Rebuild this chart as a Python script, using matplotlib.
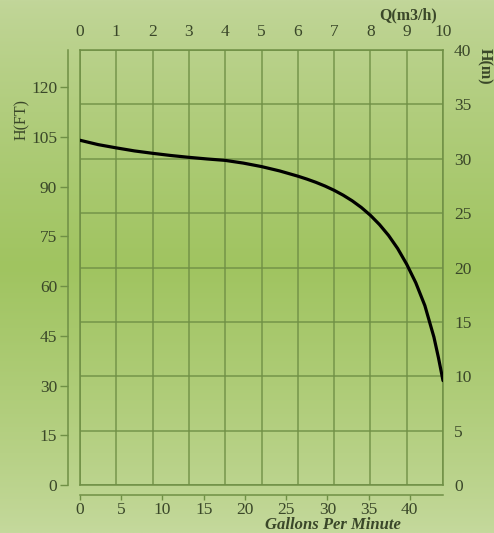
import numpy as np
import matplotlib
matplotlib.use("Agg")
import matplotlib.pyplot as plt

# pump curve: flow in m3/h, head in m
q_m3h = [0, 0.5, 1, 1.5, 2, 2.5, 3, 3.5, 4, 4.5, 5, 5.5, 6, 6.25, 6.5, 6.75,
         7, 7.25, 7.5, 7.75, 8, 8.25, 8.5, 8.75, 9, 9.25, 9.5, 9.75, 9.875, 10]
head_m = [31.7, 31.3, 31.0, 30.72, 30.5, 30.3, 30.13, 29.98, 29.85, 29.6, 29.28,
          28.88, 28.4, 28.13, 27.83, 27.49, 27.1, 26.65, 26.13, 25.52, 24.8,
          23.95, 22.95, 21.75, 20.3, 18.6, 16.5, 13.6, 11.7, 9.6]

q_ticks = list(range(0, 11))
hm_ticks = list(range(0, 41, 5))
ft_ticks = list(range(0, 121, 15))
gpm_ticks = list(range(0, 41, 5))

M_TO_FT = 3.28084
M3H_TO_GPM = 4.40287
PX = 72 / 100  # points per pixel at 100 dpi

grid_c = "#6f8f45"
text_c = "#3a4729"
font = "Liberation Serif"
fs = 12.5

fig = plt.figure(figsize=(4.94, 5.33), dpi=100)

# green background, light at top and bottom, deeper in the middle
bg = fig.add_axes([0, 0, 1, 1], zorder=-10)
t = np.linspace(0, 1, 300)
top = np.array([194, 214, 154]) / 255
mid = np.array([160, 196, 96]) / 255
bot = np.array([197, 217, 157]) / 255
w = np.clip(1 - np.abs(t - 0.5) / 0.5, 0, 1) ** 0.8
upper = t < 0.5
cols = np.where(upper[:, None], top + (mid - top) * w[:, None], bot + (mid - bot) * w[:, None])
bg.imshow(np.repeat(cols[:, None, :], 2, axis=1), aspect="auto", extent=[0, 1, 0, 1])
bg.axis("off")

ax = fig.add_axes([80 / 494, 48 / 533, 363 / 494, 435 / 533])
ax.patch.set_alpha(0)
ax.set_xlim(0, 10)
ax.set_ylim(0, 40)
ax.set_xticks(q_ticks)
ax.set_yticks(hm_ticks)
ax.grid(True, color=grid_c, lw=1.1, alpha=0.9)
for s in ax.spines.values():
    s.set_color(grid_c)
    s.set_linewidth(1.1)
ax.tick_params(axis="x", bottom=False, labelbottom=False, top=False, labeltop=True,
               length=0, pad=7, labelsize=fs, labelcolor=text_c)
ax.tick_params(axis="y", left=False, labelleft=False, right=False, labelright=True,
               length=0, pad=8, labelsize=fs, labelcolor=text_c)
for lab in ax.get_xticklabels() + ax.get_yticklabels():
    lab.set_fontfamily(font)

ax.plot(q_m3h, head_m, color="black", lw=2.3, solid_capstyle="round",
        solid_joinstyle="round", zorder=5)

# head in feet on an offset left axis
ax_ft = ax.secondary_yaxis("left", functions=(lambda h: h * M_TO_FT, lambda f: f / M_TO_FT))
ax_ft.spines["left"].set_position(("outward", 12 * PX))
ax_ft.spines["left"].set_color(grid_c)
ax_ft.spines["left"].set_linewidth(1.1)
ax_ft.set_yticks(ft_ticks)
ax_ft.tick_params(length=8 * PX, width=1, color=grid_c, labelsize=fs, labelcolor=text_c, pad=2)
for lab in ax_ft.get_yticklabels():
    lab.set_fontfamily(font)

# flow in US gallons per minute on an offset bottom axis
ax_gpm = ax.secondary_xaxis("bottom", functions=(lambda q: q * M3H_TO_GPM, lambda g: g / M3H_TO_GPM))
ax_gpm.spines["bottom"].set_position(("outward", 10 * PX))
ax_gpm.spines["bottom"].set_color(grid_c)
ax_gpm.spines["bottom"].set_linewidth(1.1)
ax_gpm.set_xticks(gpm_ticks)
ax_gpm.tick_params(length=5 * PX, width=1, color=grid_c, labelsize=fs, labelcolor=text_c, pad=1.5)
for lab in ax_gpm.get_xticklabels():
    lab.set_fontfamily(font)

fig.text(22 / 494, 1 - 120 / 533, "H(FT)", rotation=90, ha="center", va="center",
         fontsize=11.5, color=text_c, family=font)
fig.text(484 / 494, 1 - 66 / 533, "H(m)", rotation=-90, ha="center", va="center",
         fontsize=11.5, color=text_c, family=font, fontweight="bold")
fig.text(408 / 494, 1 - 15 / 533, "Q(m3/h)", ha="center", va="center",
         fontsize=11.5, color=text_c, family=font, fontweight="bold")
fig.text(333 / 494, 1 - 525 / 533, "Gallons Per Minute", ha="center", va="center",
         fontsize=12, color=text_c, family=font, fontweight="bold", style="italic")

fig.savefig("out.png", dpi=100)
